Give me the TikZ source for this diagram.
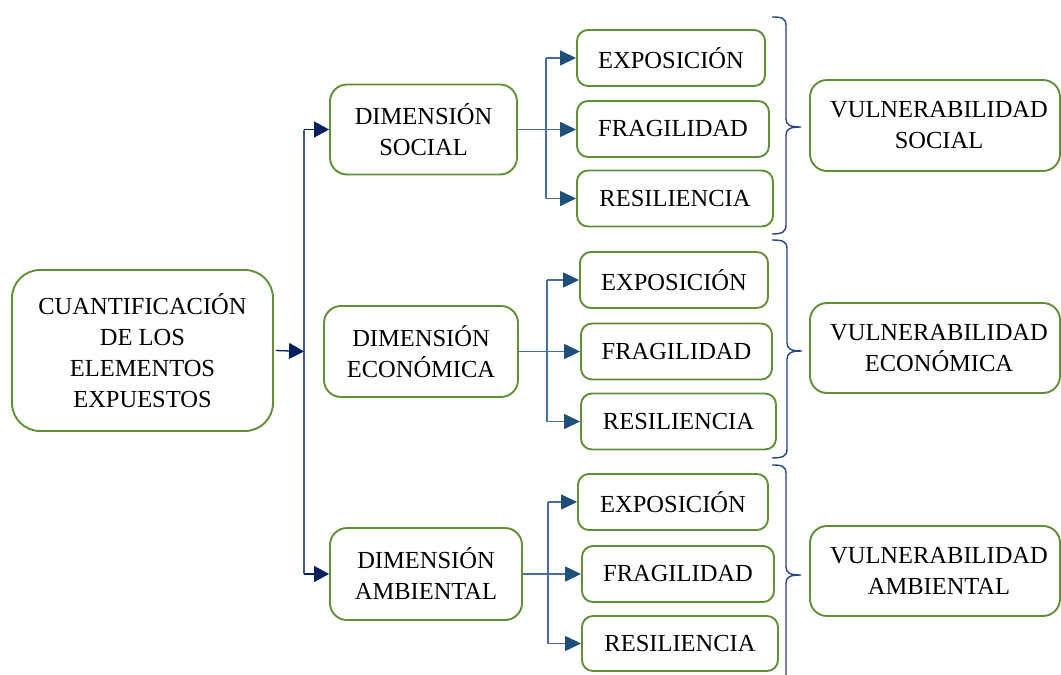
\documentclass[tikz,border=0pt]{standalone}
\usepackage{fontspec}
\setmainfont{Liberation Serif}
\usetikzlibrary{arrows.meta}
\definecolor{boxgreen}{RGB}{98,142,56}
\definecolor{navy}{RGB}{0,32,96}
\definecolor{trunkblue}{RGB}{62,92,150}
\definecolor{subblue}{RGB}{31,78,121}
\definecolor{sublight}{RGB}{70,110,160}
\definecolor{bracecol}{RGB}{40,65,135}
\tikzset{
  gbox/.style={draw=boxgreen, line width=1.9pt, align=center, inner sep=0pt,
    font=\fontsize{24.5}{31}\selectfont, text=black},
  subbox/.style={gbox, rounded corners=11pt, minimum height=56pt},
  dimbox/.style={gbox, rounded corners=17pt},
  vulbox/.style={gbox, rounded corners=17pt, minimum width=250pt, minimum height=90pt},
  mainarrow/.style={draw=navy, line width=1.3pt, -{Triangle[length=15pt,width=16pt]}},
  trunkline/.style={draw=trunkblue, line width=1.6pt},
  subarrow/.style={draw=sublight, line width=1.4pt, -{Triangle[length=16pt,width=15pt,color=subblue]}},
  subline/.style={draw=sublight, line width=1.4pt},
  bracestyle/.style={draw=bracecol, line width=1.4pt},
}
\begin{document}
\begin{tikzpicture}[x=1pt,y=-1pt]
\useasboundingbox (0,0) rectangle (1061,675);
\clip (0,0) rectangle (1061,675);
% left box
\node[gbox, rounded corners=28pt, minimum width=261pt, minimum height=161pt] (cuant) at (142.5,350.5)
  {CUANTIFICACIÓN\\DE LOS\\ELEMENTOS\\EXPUESTOS};
% dimension boxes
\node[dimbox, minimum width=187pt, minimum height=90pt] (dsoc) at (423.5,129.5) {DIMENSIÓN\\SOCIAL};
\node[dimbox, minimum width=194pt, minimum height=91pt] (deco) at (421,351.5) {DIMENSIÓN\\ECONÓMICA};
\node[dimbox, minimum width=192pt, minimum height=92pt] (damb) at (426,574) {DIMENSIÓN\\AMBIENTAL};
% social sub boxes
\node[subbox, minimum width=188pt] (exp1) at (671,58) {EXPOSICIÓN};
\node[subbox, minimum width=192pt] (fra1) at (673,129) {FRAGILIDAD};
\node[subbox, minimum width=196pt] (res1) at (675,198.5) {RESILIENCIA};
% economic sub boxes
\node[subbox, minimum width=188pt] (exp2) at (674,280) {EXPOSICIÓN};
\node[subbox, minimum width=191pt] (fra2) at (676.5,351.5) {FRAGILIDAD};
\node[subbox, minimum width=195pt] (res2) at (678.5,421.5) {RESILIENCIA};
% environmental sub boxes
\node[subbox, minimum width=190pt] (exp3) at (673,502) {EXPOSICIÓN};
\node[subbox, minimum width=192pt] (fra3) at (678,574) {FRAGILIDAD};
\node[subbox, minimum width=196pt, minimum height=55pt] (res3) at (680,643.5) {RESILIENCIA};
% vulnerability boxes
\node[vulbox, minimum height=91pt] (vs1) at (935,125.5) {\hspace*{8pt}VULNERABILIDAD\\\hspace*{8pt}SOCIAL};
\node[vulbox] (vs2) at (935,348) {\hspace*{8pt}VULNERABILIDAD\\\hspace*{8pt}ECONÓMICA};
\node[vulbox] (vs3) at (935,571) {\hspace*{8pt}VULNERABILIDAD\\\hspace*{8pt}AMBIENTAL};
% trunk connectors
\coordinate (tr) at (304,351.5);
\draw[trunkline] (tr |- dsoc.west) -- (tr |- damb.west);
\draw[mainarrow] ([xshift=2pt]cuant.east) -- (tr);
\draw[mainarrow] (tr |- dsoc.west) -- (dsoc.west);
\draw[mainarrow] (tr |- damb.west) -- (damb.west);
% social branch
\coordinate (s1) at (546,129);
\draw[subline] (s1 |- exp1.west) -- (s1 |- res1.west);
\draw[subarrow] (dsoc.east) -- (dsoc.east -| fra1.west);
\draw[subarrow] (s1 |- exp1.west) -- (exp1.west);
\draw[subarrow] (s1 |- res1.west) -- (res1.west);
% economic branch
\coordinate (s2) at (547,351.5);
\draw[subline] (s2 |- exp2.west) -- (s2 |- res2.west);
\draw[subarrow] (deco.east) -- (deco.east -| fra2.west);
\draw[subarrow] (s2 |- exp2.west) -- (exp2.west);
\draw[subarrow] (s2 |- res2.west) -- (res2.west);
% environmental branch
\coordinate (s3) at (548,574);
\draw[subline] (s3 |- exp3.west) -- (s3 |- res3.west);
\draw[subarrow] (damb.east) -- (damb.east -| fra3.west);
\draw[subarrow] (s3 |- exp3.west) -- (exp3.west);
\draw[subarrow] (s3 |- res3.west) -- (res3.west);
% braces
\draw[bracestyle] (772,17) .. controls (782,17) and (786,18) .. (786,26) -- (786,119)
  .. controls (786,125) and (790,127) .. (801,127)
  .. controls (790,127) and (786,129) .. (786,135) -- (786,225)
  .. controls (786,232) and (782,234) .. (772,234);
\draw[bracestyle] (772,240) .. controls (782,240) and (787,241) .. (787,249) -- (787,343)
  .. controls (787,349) and (791,351) .. (802,351)
  .. controls (791,351) and (787,353) .. (787,359) -- (787,449)
  .. controls (787,456) and (783,458) .. (772,458);
\draw[bracestyle] (772,465) .. controls (782,465) and (786,466) .. (786,474) -- (786,567)
  .. controls (786,573) and (790,575) .. (801,575)
  .. controls (790,575) and (786,577) .. (786,583) -- (786,690);
\end{tikzpicture}
\end{document}
